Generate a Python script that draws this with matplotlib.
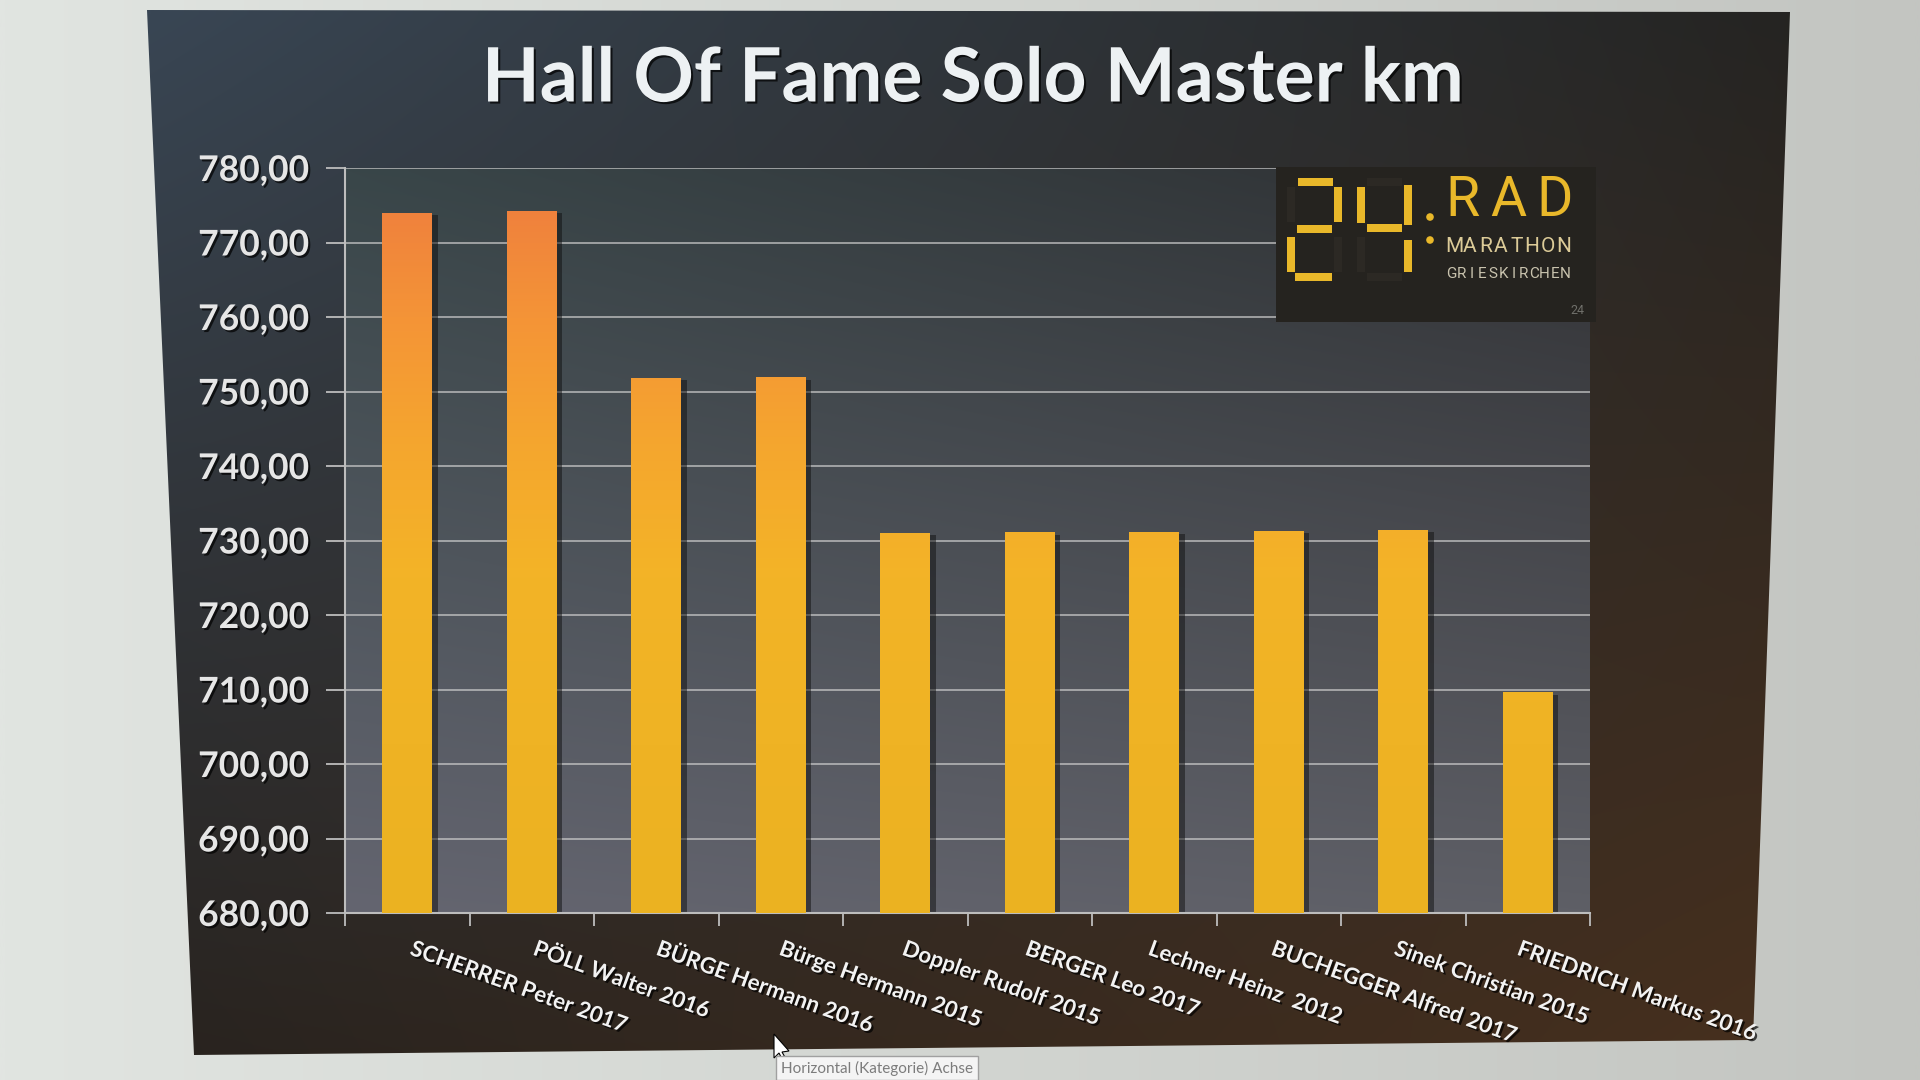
import numpy as np
import matplotlib
matplotlib.use("Agg")
import matplotlib.pyplot as plt
from matplotlib.colors import LinearSegmentedColormap, to_rgb
from matplotlib.patches import Polygon, Rectangle, Circle
import matplotlib.patheffects as pe

# ---------------- data ----------------
title = "Hall Of Fame Solo Master km"
categories = ["SCHERRER Peter 2017", "PÖLL Walter 2016", "BÜRGE Hermann 2016",
              "Bürge Hermann 2015", "Doppler Rudolf 2015", "BERGER Leo 2017",
              "Lechner Heinz  2012", "BUCHEGGER Alfred 2017", "Sinek Christian 2015",
              "FRIEDRICH Markus 2016"]
km = [774.0, 774.2, 751.8, 751.9, 731.0, 731.1, 731.2, 731.3, 731.4, 709.6]
y_ticks = [680, 690, 700, 710, 720, 730, 740, 750, 760, 770, 780]
y_tick_labels = ["680,00", "690,00", "700,00", "710,00", "720,00", "730,00",
                 "740,00", "750,00", "760,00", "770,00", "780,00"]
tooltip = "Horizontal (Kategorie) Achse"

W, H = 1920, 1080
FONT = ["Lato", "DejaVu Sans"]
shadow = [pe.SimplePatchShadow(offset=(1.5, -1.5), shadow_rgbFace="black", alpha=0.7), pe.Normal()]

fig = plt.figure(figsize=(19.2, 10.8), dpi=100)

# ---------------- photo background + screen area ----------------
bg = fig.add_axes([0, 0, 1, 1], zorder=0)
bg.set_xlim(0, W); bg.set_ylim(H, 0); bg.axis("off")
xs = np.linspace(0, 1, 200)
c1 = np.array(to_rgb("#e1e5e1")); c2 = np.array(to_rgb("#c3c5c1"))
img = (c1[None, :] * (1 - xs[:, None]) + c2[None, :] * xs[:, None])[None, :, :]
bg.imshow(img, extent=[0, W, H, 0], aspect="auto", interpolation="bilinear")

verts = [(147, 10), (1790, 12), (1753, 1040), (194, 1055)]
ny, nx = 120, 200
u = np.linspace(0, 1, nx)[None, :, None]
v = np.linspace(0, 1, ny)[:, None, None]
TL, TR, BL, BR = [np.array(to_rgb(c)) for c in ("#394654", "#252422", "#28231f", "#47301e")]
grad = TL * (1 - u) * (1 - v) + TR * u * (1 - v) + BL * (1 - u) * v + BR * u * v
im = bg.imshow(grad, extent=[147, 1790, 1055, 10], aspect="auto", interpolation="bilinear")
poly = Polygon(verts, closed=True, facecolor="none", edgecolor="none")
bg.add_patch(poly)
im.set_clip_path(poly)
bg.set_xlim(0, W); bg.set_ylim(H, 0)

fig.text(973 / W, 1 - 80 / H, title, ha="center", va="center", fontsize=54,
         fontweight="bold", family=FONT, color="#edf1f3", path_effects=shadow)

# ---------------- main chart ----------------
ax = fig.add_axes([345 / W, 1 - 913 / H, 1245 / W, 745 / H], zorder=2)
ax.patch.set_alpha(0)
x = np.arange(len(categories))
ymin, ymax = y_ticks[0], y_ticks[-1]

pu = np.linspace(0, 1, 160)[None, :, None]
pv = np.linspace(0, 1, 120)[:, None, None]  # 0 = bottom
PTL, PTR, PBL, PBR = [np.array(to_rgb(c)) for c in ("#394649", "#303134", "#646570", "#5e5f66")]
pgrad = PBL * (1 - pu) * (1 - pv) + PBR * pu * (1 - pv) + PTL * (1 - pu) * pv + PTR * pu * pv
ax.imshow(pgrad, extent=[-0.5, len(categories) - 0.5, ymin, ymax], origin="lower",
          aspect="auto", interpolation="bilinear", zorder=0)

ax.set_yticks(y_ticks)
ax.set_yticklabels(y_tick_labels, family=FONT, fontweight="bold")
ax.yaxis.grid(True, color="#c9c9c9", lw=1.3, alpha=0.75)
ax.set_axisbelow(True)

w = 0.40
vals = np.array(km) - ymin
ax.bar(x + w / 2 + 0.022, vals - 0.3, width=0.045, bottom=ymin, color="#101010",
       alpha=0.5, zorder=2, linewidth=0)
bars = ax.bar(x, vals, width=w, bottom=ymin, color="none", linewidth=0, zorder=3)
bar_cmap = LinearSegmentedColormap.from_list(
    "bars", [(0, "#ebb221"), (0.45, "#f3b427"), (0.62, "#f5a72e"),
             (0.8, "#f49437"), (1, "#ee7a3f")])
g = np.linspace(0, 1, 256)[:, None]
for b in bars:
    bim = ax.imshow(g, extent=[b.get_x(), b.get_x() + b.get_width(), ymin, ymax],
                    origin="lower", cmap=bar_cmap, aspect="auto", zorder=3,
                    interpolation="bilinear")
    bim.set_clip_path(b)

ax.set_xlim(-0.5, len(categories) - 0.5)
ax.set_ylim(ymin, ymax)

for s in ("top", "right"):
    ax.spines[s].set_visible(False)
for s in ("left", "bottom"):
    ax.spines[s].set_color("#bdbdbd")
    ax.spines[s].set_linewidth(1.5)

ax.tick_params(axis="y", length=14, width=1.3, color="#bdbdbd", pad=12,
               labelsize=25.5, labelcolor="#e6e6e6")
for t in ax.get_yticklabels():
    t.set_path_effects(shadow)
ax.set_xticks(x)
ax.set_xticklabels([])
ax.tick_params(axis="x", which="major", length=0)
ax.set_xticks(np.arange(-0.5, len(categories), 1.0), minor=True)
ax.tick_params(axis="x", which="minor", length=9, width=1.3, color="#bdbdbd")

for i, c in enumerate(categories):
    ax.text(i + 0.06 - 0.012 * i, ymin - 3.4, c, rotation=-20, rotation_mode="anchor",
            ha="left", va="top", fontsize=16, fontweight="bold", family=FONT,
            color="#f2f2f2", clip_on=False, path_effects=shadow)

# ---------------- overlay: logo, tooltip ----------------
ov = fig.add_axes([0, 0, 1, 1], zorder=5)
ov.patch.set_alpha(0)
ov.set_xlim(0, W); ov.set_ylim(H, 0); ov.axis("off")

ov.add_patch(Rectangle((1276, 167), 320, 155, facecolor="#25231f", edgecolor="none"))
on = "#e9b82a"
off = "#2c2924"
segs_on = [  # digit 2
    (1298, 178, 1333, 186), (1334, 187, 1342, 222), (1297, 225, 1332, 233),
    (1287, 237, 1295, 272), (1295, 273, 1332, 281),
    # digit 4
    (1357, 187, 1365, 223), (1367, 224, 1402, 232), (1404, 185, 1412, 225),
    (1404, 240, 1412, 272)]
segs_off = [(1287, 187, 1295, 222), (1334, 237, 1342, 272),
            (1367, 178, 1402, 186), (1357, 237, 1365, 272), (1367, 273, 1402, 281)]
for (x0, y0, x1, y1) in segs_off:
    ov.add_patch(Rectangle((x0, y0), x1 - x0, y1 - y0, facecolor=off, edgecolor="none"))
for (x0, y0, x1, y1) in segs_on:
    ov.add_patch(Rectangle((x0, y0), x1 - x0, y1 - y0, facecolor=on, edgecolor="none"))
ov.add_patch(Circle((1430, 217), 3.8, facecolor=on, edgecolor="none"))
ov.add_patch(Circle((1430, 240), 3.8, facecolor=on, edgecolor="none"))
for k, ch in enumerate("RAD"):
    ov.text(1462 + 46.5 * k, 201, ch, ha="center", va="center", fontsize=40,
            family=["Roboto", "DejaVu Sans"], color=on)
for k, ch in enumerate("MARATHON"):
    ov.text(1454 + 15.6 * k, 246, ch, ha="center", va="center", fontsize=15,
            family=["Roboto", "DejaVu Sans"], color="#dccb98")
for k, ch in enumerate("GRIESKIRCHEN"):
    ov.text(1451 + 10.4 * k, 274, ch, ha="center", va="center", fontsize=11,
            family=["Roboto", "DejaVu Sans"], color="#c9c3ae")
ov.text(1577, 310, "24", ha="center", va="center", fontsize=9,
        family=["Roboto", "DejaVu Sans"], color="#6f6f6a")

ov.text(781, 1068, tooltip, ha="left", va="center", fontsize=11, family=FONT,
        color="#7c7c7c",
        bbox=dict(boxstyle="square,pad=0.3", facecolor="#f4f4f4", edgecolor="#a0a0a0", lw=1))
ov.add_patch(Polygon([(774, 1034), (774, 1058), (779, 1053), (783, 1061), (786, 1059),
                      (782, 1052), (789, 1051)], closed=True,
                     facecolor="white", edgecolor="black", lw=0.8))

fig.savefig("out.png", dpi=100)
